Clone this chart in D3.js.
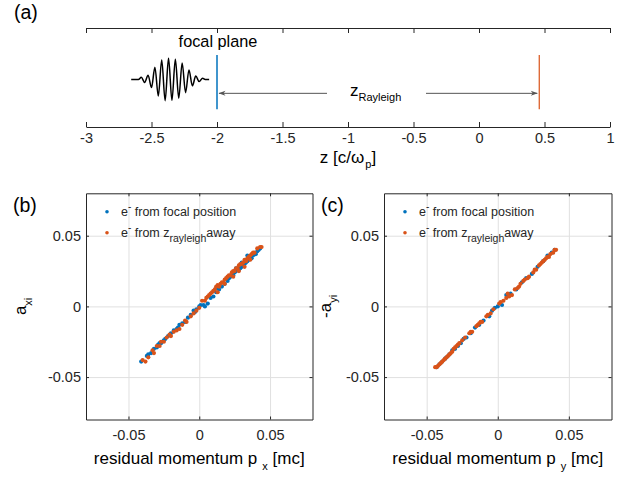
<!DOCTYPE html>
<html><head><meta charset="utf-8">
<script src="https://cdn.jsdelivr.net/npm/d3@7"></script>
<style>
body{margin:0;background:#fff;}
svg{display:block;font-family:"Liberation Sans",Arial,Helvetica,sans-serif;}
</style></head><body>
<svg id="c" width="631" height="477"></svg>
<script>
// ---------- data ----------
const aTicks = [-3,-2.5,-2,-1.5,-1,-0.5,0,0.5,1];
const aTickLabels = ["-3","-2.5","-2","-1.5","-1","-0.5","0","0.5","1"];
const focalZ = -2;
const rayleighZ = 0.46;
const waveZ = [-2.655,-2.600,-2.578,-2.552,-2.526,-2.500,-2.474,-2.448,-2.422,-2.396,-2.370,-2.344,-2.318,-2.292,-2.266,-2.240,-2.214,-2.188,-2.162,-2.136,-2.110,-2.090,-2.060];
const waveA = [0,0,0.10,-0.14,0.20,-0.38,0.58,-0.78,0.92,-1.0,1.0,-0.98,0.95,-0.88,0.78,-0.62,0.45,-0.30,0.16,-0.10,0.06,0,0];

const sTicks = [-0.05,0,0.05];
const sTickLabels = ["-0.05","0","0.05"];

const bFocal = [[-0.041,-0.039],[-0.037,-0.035],[-0.034,-0.033],[-0.032,-0.030],[-0.030,-0.029],[-0.029,-0.027],[-0.027,-0.026],[-0.025,-0.024],[-0.024,-0.023],[-0.022,-0.021],[-0.020,-0.019],[-0.018,-0.017],[-0.016,-0.016],[-0.014,-0.013],[-0.012,-0.012],[-0.010,-0.011],[-0.008,-0.008],[-0.006,-0.006],[-0.004,-0.003],[-0.002,-0.002],[0.000,0.000],[0.001,0.001],[0.003,0.001],[0.004,0.000],[0.006,0.002],[0.010,0.007],[0.012,0.010],[0.014,0.012],[0.016,0.014],[0.018,0.016],[0.020,0.018],[0.021,0.020],[0.022,0.021],[0.024,0.022],[0.025,0.024],[0.026,0.025],[0.027,0.026],[0.028,0.026],[0.029,0.027],[0.030,0.028],[0.031,0.029],[0.032,0.030],[0.033,0.031],[0.034,0.032],[0.035,0.033],[0.036,0.034],[0.037,0.034],[0.038,0.036],[0.040,0.037],[0.041,0.039],[0.042,0.040],[0.043,0.041],[0.034,0.036],[0.030,0.031],[0.026,0.027],[0.020,0.020],[0.015,0.015],[0.012,0.013],[0.008,0.006],[-0.003,-0.004],[-0.015,-0.015],[-0.028,-0.026],[-0.036,-0.034]];
const bRayleigh = [[-0.040,-0.038],[-0.038,-0.039],[-0.036,-0.036],[-0.033,-0.031],[-0.032,-0.033],[-0.030,-0.028],[-0.028,-0.028],[-0.027,-0.025],[-0.025,-0.025],[-0.023,-0.022],[-0.021,-0.020],[-0.020,-0.021],[-0.018,-0.018],[-0.016,-0.017],[-0.014,-0.016],[-0.012,-0.013],[-0.010,-0.010],[-0.009,-0.011],[-0.006,-0.007],[-0.004,-0.005],[-0.002,-0.003],[0.000,-0.001],[0.002,0.004],[0.004,0.004],[0.005,0.006],[0.006,0.007],[0.007,0.008],[0.008,0.009],[0.009,0.010],[0.010,0.011],[0.011,0.012],[0.012,0.014],[0.013,0.015],[0.014,0.014],[0.015,0.016],[0.016,0.017],[0.017,0.017],[0.018,0.019],[0.019,0.020],[0.020,0.021],[0.021,0.022],[0.022,0.022],[0.023,0.024],[0.024,0.025],[0.025,0.025],[0.026,0.027],[0.027,0.027],[0.028,0.029],[0.029,0.030],[0.030,0.030],[0.031,0.031],[0.032,0.033],[0.033,0.032],[0.034,0.034],[0.035,0.035],[0.036,0.036],[0.036,0.033],[0.037,0.037],[0.038,0.038],[0.039,0.038],[0.041,0.041],[0.043,0.042],[0.044,0.042],[0.024,0.021],[0.028,0.025],[0.032,0.028],[0.013,0.010],[0.018,0.016]];

const cFocal = [[-0.043,-0.043],[-0.041,-0.041],[-0.039,-0.039],[-0.037,-0.037],[-0.036,-0.036],[-0.034,-0.034],[-0.032,-0.031],[-0.030,-0.030],[-0.028,-0.028],[-0.026,-0.026],[-0.024,-0.023],[-0.022,-0.022],[-0.019,-0.019],[-0.016,-0.015],[-0.013,-0.013],[-0.010,-0.010],[-0.006,-0.007],[-0.004,-0.003],[-0.002,-0.001],[0.000,0.000],[0.003,0.001],[0.006,0.008],[0.009,0.009],[0.013,0.012],[0.017,0.017],[0.020,0.020],[0.024,0.023],[0.028,0.028],[0.032,0.032],[0.035,0.036],[0.038,0.038],[0.040,0.040]];
const cRayleigh = [[-0.044,-0.043],[-0.043,-0.043],[-0.042,-0.042],[-0.041,-0.041],[-0.040,-0.040],[-0.039,-0.039],[-0.038,-0.038],[-0.037,-0.037],[-0.036,-0.036],[-0.035,-0.035],[-0.034,-0.034],[-0.033,-0.033],[-0.032,-0.032],[-0.031,-0.030],[-0.030,-0.029],[-0.029,-0.028],[-0.028,-0.027],[-0.027,-0.026],[-0.025,-0.024],[-0.023,-0.022],[-0.020,-0.019],[-0.019,-0.018],[-0.018,-0.018],[-0.015,-0.014],[-0.014,-0.013],[-0.013,-0.012],[-0.012,-0.011],[-0.011,-0.011],[-0.008,-0.007],[-0.007,-0.006],[-0.005,-0.005],[-0.003,-0.002],[0.001,0.002],[0.002,0.003],[0.004,0.004],[0.006,0.006],[0.007,0.009],[0.008,0.007],[0.010,0.008],[0.012,0.012],[0.014,0.013],[0.015,0.014],[0.016,0.016],[0.018,0.018],[0.019,0.019],[0.021,0.020],[0.022,0.021],[0.025,0.024],[0.026,0.026],[0.027,0.026],[0.029,0.029],[0.030,0.030],[0.031,0.031],[0.032,0.032],[0.033,0.033],[0.034,0.034],[0.035,0.035],[0.036,0.035],[0.037,0.037],[0.039,0.038],[0.040,0.040],[0.041,0.040]];

// ---------- styles ----------
const BLUE = "#0072BD", ORANGE = "#D95319", AX = "#262626", GRID = "#e0e0e0", ARROW = "#555555";
const TICKFS = 14.5, LABELFS = 17;

const svg = d3.select("#c");
svg.append("rect").attr("width",631).attr("height",477).attr("fill","#fff");

function rich(g, x, y, parts, opts={}) {
  const t = g.append("text").attr("x",x).attr("y",y)
    .attr("fill", opts.fill || "#000")
    .attr("font-size", opts.size || 14)
    .attr("text-anchor", opts.anchor || "start");
  if (opts.transform) t.attr("transform", opts.transform);
  parts.forEach(p => {
    const s = t.append("tspan").text(p.t);
    if (p.dy) s.attr("dy", p.dy);
    if (p.dx) s.attr("dx", p.dx);
    if (p.size) s.attr("font-size", p.size);
  });
  return t;
}
function styleAxis(g){
  g.select(".domain").attr("stroke",AX);
  g.selectAll(".tick line").attr("stroke",AX);
  g.selectAll(".tick text").attr("fill",AX).attr("font-size",TICKFS).attr("font-family","Liberation Sans, Arial, sans-serif");
}

// ---------- panel (a) ----------
const xA = d3.scaleLinear().domain([-3,1]).range([86,610]);
const yA = d3.scaleLinear().domain([0,1]).range([127,28]);
const gA = svg.append("g");

const topA = gA.append("g").attr("transform",`translate(0,${yA(1)})`)
  .call(d3.axisTop(xA).tickValues(aTicks).tickSizeInner(-5).tickSizeOuter(0).tickFormat(""));
styleAxis(topA);
const botA = gA.append("g").attr("transform",`translate(0,${yA(0)})`)
  .call(d3.axisBottom(xA).tickValues(aTicks).tickSizeInner(-5).tickSizeOuter(0).tickPadding(6)
  .tickFormat((d,i)=>aTickLabels[i]));
styleAxis(botA);

// wave packet
const waveMid = 0.48, waveAmp = 0.215;
gA.append("path")
  .datum(waveZ.map((z,i)=>[z,waveA[i]]))
  .attr("fill","none").attr("stroke","#000").attr("stroke-width",1.5)
  .attr("d", d3.line().x(d=>xA(d[0])).y(d=>yA(waveMid + d[1]*waveAmp)).curve(d3.curveMonotoneX));

// focal & rayleigh lines
gA.append("line").attr("x1",xA(focalZ)).attr("x2",xA(focalZ)).attr("y1",yA(0.18)).attr("y2",yA(0.727))
  .attr("stroke",BLUE).attr("stroke-width",1.5);
gA.append("line").attr("x1",xA(rayleighZ)).attr("x2",xA(rayleighZ)).attr("y1",yA(0.18)).attr("y2",yA(0.727))
  .attr("stroke",ORANGE).attr("stroke-width",1.2);

// arrow
const arrY = yA(0.34);
gA.append("line").attr("x1",xA(focalZ)+2).attr("x2",327).attr("y1",arrY).attr("y2",arrY).attr("stroke",ARROW).attr("stroke-width",1);
gA.append("line").attr("x1",426).attr("x2",xA(rayleighZ)-2).attr("y1",arrY).attr("y2",arrY).attr("stroke",ARROW).attr("stroke-width",1);
const ax0 = xA(focalZ)+1.5, ax1 = xA(rayleighZ)-1.5;
gA.append("path").attr("d",`M${ax0},${arrY} L${ax0+7},${arrY-2.5} L${ax0+5},${arrY} L${ax0+7},${arrY+2.5} Z`).attr("fill",ARROW);
gA.append("path").attr("d",`M${ax1},${arrY} L${ax1-7},${arrY-2.5} L${ax1-5},${arrY} L${ax1-7},${arrY+2.5} Z`).attr("fill",ARROW);

rich(gA, 350, arrY+3, [{t:"z"},{t:"Rayleigh",size:11,dy:5}], {size:17, fill:"#000"});
rich(gA, xA(focalZ)+1, 47, [{t:"focal plane"}], {size:16.3, anchor:"middle"});

// x label
rich(gA, 348, 163, [{t:"z [c/"},{t:"ω",},{t:"p",size:11,dy:5,dx:1},{t:"]",dy:-5}], {size:LABELFS, anchor:"middle"});
rich(gA, 14, 19, [{t:"(a)"}], {size:19.5});

// ---------- scatter panels ----------
function scatterPanel(x0, x1, focal, rayleigh, labelParts, ylabelParts, ylabelX, tag, tagX, legX) {
  const g = svg.append("g");
  const x = d3.scaleLinear().domain([-0.08,0.08]).range([x0,x1]);
  const y = d3.scaleLinear().domain([-0.08,0.08]).range([419.5,193.3]);
  const [yb, yt] = y.range();
  // grid
  g.append("g").attr("transform",`translate(0,${yb})`)
    .call(d3.axisBottom(x).tickValues(sTicks).tickSize(-(yb-yt)).tickFormat(""))
    .call(s=>{s.select(".domain").remove(); s.selectAll("line").attr("stroke",GRID);});
  g.append("g").attr("transform",`translate(${x0},0)`)
    .call(d3.axisLeft(y).tickValues(sTicks).tickSize(-(x1-x0)).tickFormat(""))
    .call(s=>{s.select(".domain").remove(); s.selectAll("line").attr("stroke",GRID);});
  // points
  const r = 2.1;
  g.append("g").selectAll("circle").data(focal).join("circle")
    .attr("cx",d=>x(d[0])).attr("cy",d=>y(d[1])).attr("r",r).attr("fill",BLUE);
  g.append("g").selectAll("circle").data(rayleigh).join("circle")
    .attr("cx",d=>x(d[0])).attr("cy",d=>y(d[1])).attr("r",r).attr("fill",ORANGE);
  // axes (box)
  const b = g.append("g").attr("transform",`translate(0,${yb})`)
    .call(d3.axisBottom(x).tickValues(sTicks).tickSizeInner(-3).tickSizeOuter(0).tickPadding(10).tickFormat((d,i)=>sTickLabels[i]));
  styleAxis(b);
  const t = g.append("g").attr("transform",`translate(0,${yt})`)
    .call(d3.axisTop(x).tickValues(sTicks).tickSizeInner(-3).tickSizeOuter(0).tickFormat(""));
  styleAxis(t);
  const l = g.append("g").attr("transform",`translate(${x0},0)`)
    .call(d3.axisLeft(y).tickValues(sTicks).tickSizeInner(-3).tickSizeOuter(0).tickPadding(5).tickFormat((d,i)=>sTickLabels[i]));
  styleAxis(l);
  const rr = g.append("g").attr("transform",`translate(${x1},0)`)
    .call(d3.axisRight(y).tickValues(sTicks).tickSizeInner(-3).tickSizeOuter(0).tickFormat(""));
  styleAxis(rr);
  // labels
  rich(g, (x0+x1)/2, 464, labelParts, {size:LABELFS, anchor:"middle"});
  rich(g, ylabelX, y(0), ylabelParts, {size:LABELFS, anchor:"middle", transform:`rotate(-90,${ylabelX},${y(0)})`});
  rich(g, tagX, 212, [{t:tag}], {size:19.5});
  // legend
  const ly1 = 211.7, ly2 = 232.7;
  g.append("circle").attr("cx",legX).attr("cy",ly1).attr("r",1.8).attr("fill",BLUE);
  g.append("circle").attr("cx",legX).attr("cy",ly2).attr("r",1.8).attr("fill",ORANGE);
  rich(g, legX+14, ly1+4.5, [{t:"e"},{t:"-",size:10,dy:-6},{t:" from focal position",dy:6}], {size:12.5, fill:AX});
  rich(g, legX+14, ly2+4.5, [{t:"e"},{t:"-",size:10,dy:-6},{t:" from z",dy:6},{t:"rayleigh",size:10.5,dy:5},{t:"away",dy:-5}], {size:12.5, fill:AX});
}

scatterPanel(86, 312.5, bFocal, bRayleigh,
  [{t:"residual momentum p"},{t:"x",size:11,dy:6,dx:5},{t:" [mc]",dy:-6}],
  [{t:"a"},{t:"xi",size:11,dy:6}], 26, "(b)", 13, 107);
scatterPanel(384, 611.5, cFocal, cRayleigh,
  [{t:"residual momentum p"},{t:"y",size:11,dy:6,dx:5},{t:" [mc]",dy:-6}],
  [{t:"-a"},{t:"yi",size:11,dy:6}], 331, "(c)", 321, 405);
</script></body></html>
